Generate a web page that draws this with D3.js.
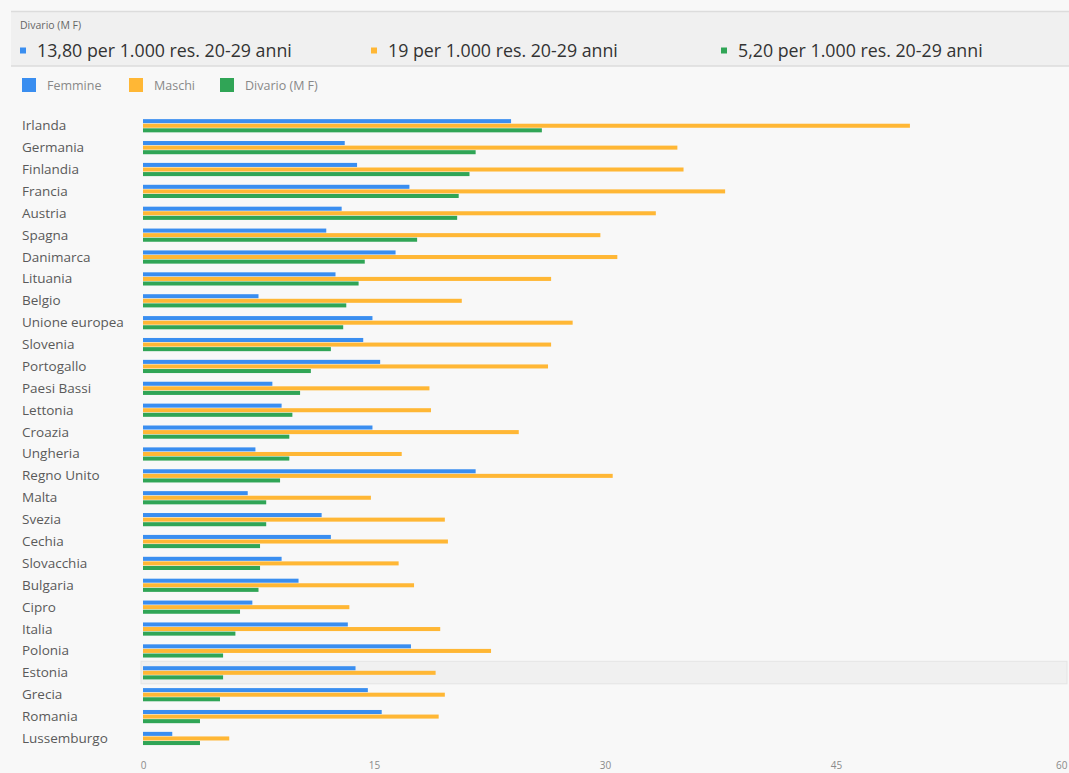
<!DOCTYPE html>
<html lang="it">
<head>
<meta charset="utf-8">
<script src="https://cdn.jsdelivr.net/npm/d3@7/dist/d3.min.js"></script>
<style>
  html, body { margin: 0; padding: 0; background: #f8f8f8; }
  svg { display: block; font-family: "Open Sans", "Noto Sans", "DejaVu Sans", sans-serif; }
</style>
</head>
<body>
<svg id="chart" width="1069" height="773"></svg>
<script>
// Tasso per 1.000 residenti di 20-29 anni
const countries = ["Irlanda", "Germania", "Finlandia", "Francia", "Austria", "Spagna", "Danimarca",
  "Lituania", "Belgio", "Unione europea", "Slovenia", "Portogallo", "Paesi Bassi", "Lettonia",
  "Croazia", "Ungheria", "Regno Unito", "Malta", "Svezia", "Cechia", "Slovacchia", "Bulgaria",
  "Cipro", "Italia", "Polonia", "Estonia", "Grecia", "Romania", "Lussemburgo"];
const femmine = [23.9, 13.1, 13.9, 17.3, 12.9, 11.9, 16.4, 12.5, 7.5, 14.9, 14.3, 15.4, 8.4, 9.0,
  14.9, 7.3, 21.6, 6.8, 11.6, 12.2, 9.0, 10.1, 7.1, 13.3, 17.4, 13.8, 14.6, 15.5, 1.9];
const maschi = [49.8, 34.7, 35.1, 37.8, 33.3, 29.7, 30.8, 26.5, 20.7, 27.9, 26.5, 26.3, 18.6, 18.7,
  24.4, 16.8, 30.5, 14.8, 19.6, 19.8, 16.6, 17.6, 13.4, 19.3, 22.6, 19.0, 19.6, 19.2, 5.6];
const divario = [25.9, 21.6, 21.2, 20.5, 20.4, 17.8, 14.4, 14.0, 13.2, 13.0, 12.2, 10.9, 10.2, 9.7,
  9.5, 9.5, 8.9, 8.0, 8.0, 7.6, 7.6, 7.5, 6.3, 6.0, 5.2, 5.2, 5.0, 3.7, 3.7];
const seriesNames = ["Femmine", "Maschi", "Divario (M F)"];
const seriesColors = ["#3a8ef0", "#ffb735", "#30a556"];
const xTicks = [0, 15, 30, 45, 60];
const selected = "Estonia";
const unit = "per 1.000 res. 20-29 anni";

const series = [femmine, maschi, divario];
const rows = countries.map((c, i) => ({ country: c, values: series.map(s => s[i]) }));

const svg = d3.select("#chart");
const W = 1069;

const x = d3.scaleLinear().domain([0, 60]).range([143, 1067]);
const y = d3.scaleBand().domain(countries).range([114.8, 749.4]);
const sub = d3.scaleBand().domain(d3.range(3)).range([-6.6, 6.6]).paddingInner(0.12);

const itLocale = d3.formatLocale({ decimal: ",", thousands: ".", grouping: [3], currency: ["€", ""] });
const fmtVal = v => Number.isInteger(v) ? itLocale.format("d")(v) : itLocale.format(".2f")(v);

// Pannello superiore con i valori della riga selezionata
const header = svg.append("g");
header.append("rect").attr("x", 11).attr("y", 11).attr("width", W - 11).attr("height", 55)
  .attr("fill", "#f0f0f0");
header.append("line").attr("x1", 11).attr("x2", W).attr("y1", 11.5).attr("y2", 11.5)
  .attr("stroke", "#dcdcdc").attr("stroke-width", 1.5);
header.append("line").attr("x1", 11).attr("x2", W).attr("y1", 66).attr("y2", 66)
  .attr("stroke", "#dcdcdc").attr("stroke-width", 1.5);
header.append("text").attr("x", 20).attr("y", 29).attr("font-size", 10.5).attr("fill", "#666")
  .text(seriesNames[2]);

const selIdx = countries.indexOf(selected);
const headerX = [20, 371, 721];
series.forEach((s, k) => {
  const g = header.append("g").attr("transform", `translate(${headerX[k]},0)`);
  g.append("rect").attr("x", 0).attr("y", 47.5).attr("width", 6).attr("height", 6)
    .attr("fill", seriesColors[k]);
  g.append("text").attr("x", 17).attr("y", 57).attr("font-size", 17.8).attr("fill", "#333")
    .text(`${fmtVal(s[selIdx])} ${unit}`);
});

// Legenda
const legendX = [22, 129, 220];
seriesNames.forEach((name, k) => {
  const g = svg.append("g").attr("transform", `translate(${legendX[k]},78)`);
  g.append("rect").attr("width", 14).attr("height", 14).attr("fill", seriesColors[k]);
  g.append("text").attr("x", 25).attr("y", 12).attr("font-size", 12.5).attr("fill", "#888").text(name);
});

// Evidenziazione della riga selezionata
svg.append("rect")
  .attr("x", 141).attr("y", y(selected) + y.bandwidth() / 2 - 11.5)
  .attr("width", 926).attr("height", 22.5)
  .attr("fill", "#f0f0f0").attr("stroke", "#e4e4e4").attr("stroke-width", 1);

// Etichette dei paesi
svg.append("g").selectAll("text").data(countries).join("text")
  .attr("x", 22).attr("y", d => y(d) + y.bandwidth() / 2 + 4.5)
  .attr("font-size", 13.5).attr("fill", "#5a5a5a").text(d => d);

// Barre
const groups = svg.append("g").selectAll("g").data(rows).join("g")
  .attr("transform", d => `translate(0,${y(d.country) + y.bandwidth() / 2})`);
groups.selectAll("rect").data(d => d.values.map((v, k) => ({ v, k }))).join("rect")
  .attr("x", x(0))
  .attr("y", d => sub(d.k))
  .attr("width", d => x(d.v) - x(0))
  .attr("height", sub.bandwidth())
  .attr("fill", d => seriesColors[d.k]);

// Asse orizzontale
const axis = svg.append("g").attr("transform", "translate(0,757)")
  .call(d3.axisBottom(x).tickValues(xTicks).tickSize(0).tickPadding(5));
axis.select(".domain").remove();
axis.selectAll("text").attr("font-size", 10).attr("fill", "#8a8a8a")
  .attr("font-family", "\"Open Sans\", \"Noto Sans\", sans-serif")
  .attr("text-anchor", d => d === 60 ? "end" : "middle");
</script>
</body>
</html>
